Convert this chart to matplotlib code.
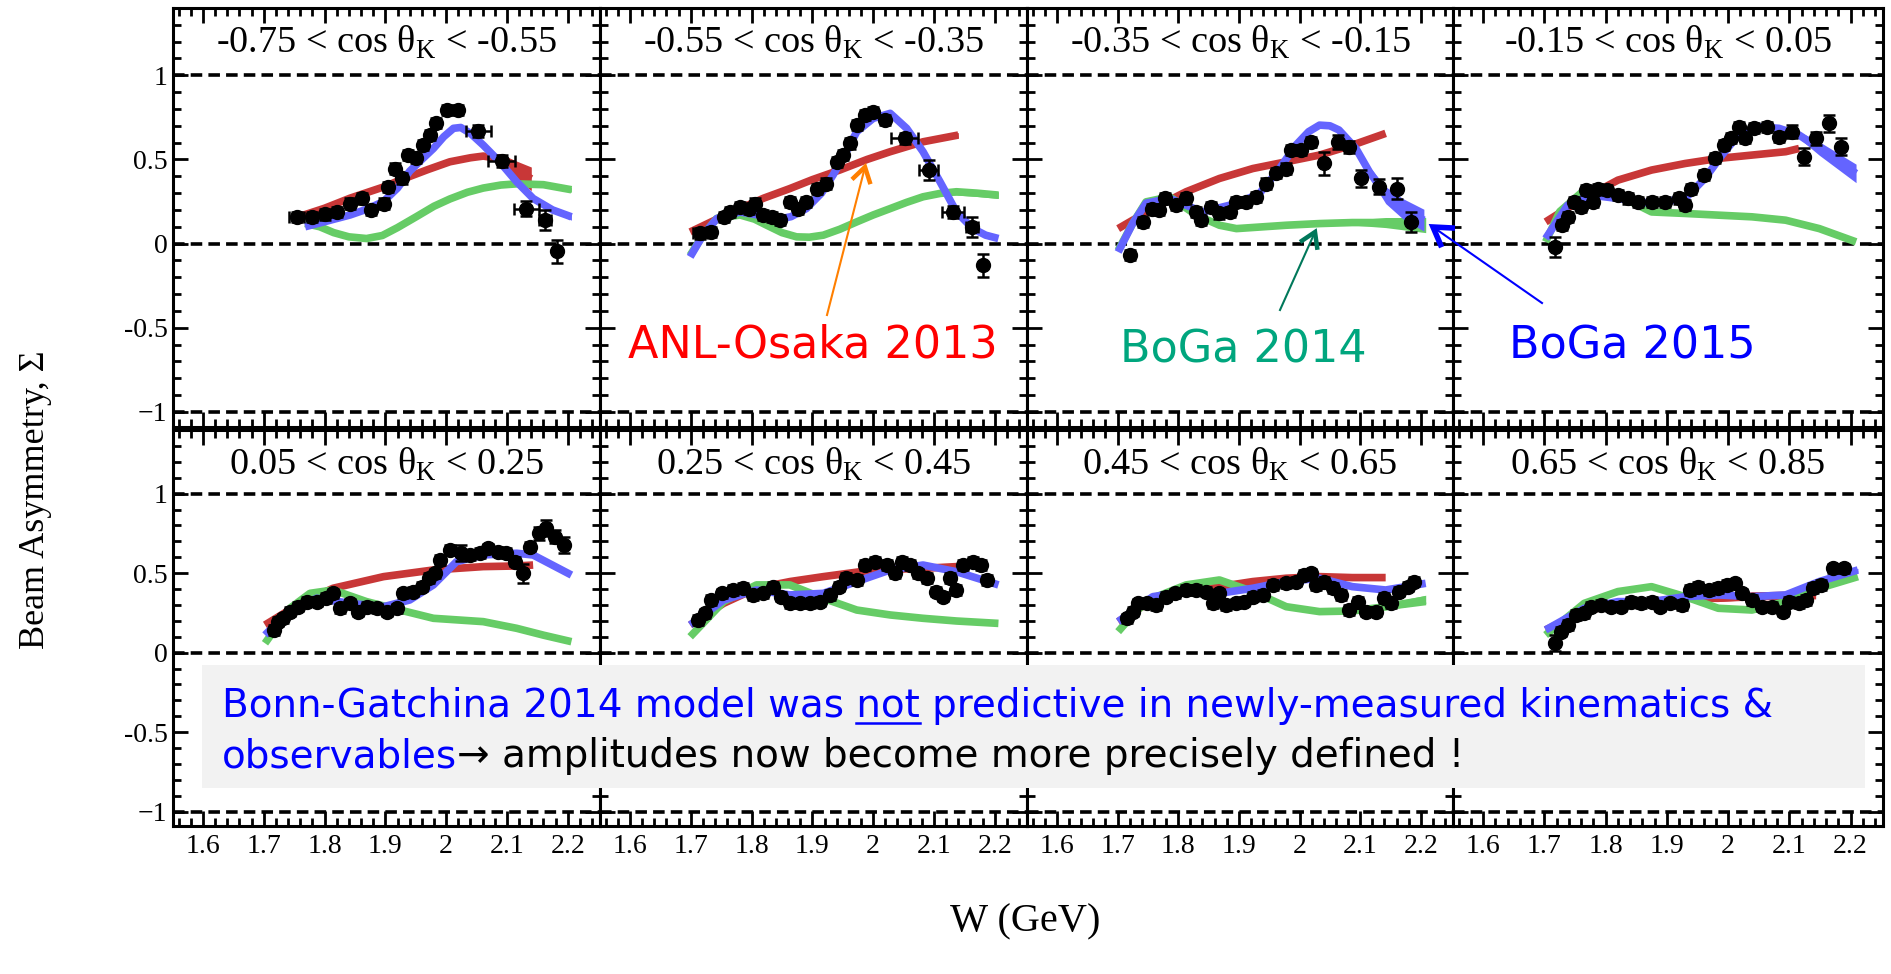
import matplotlib
matplotlib.use("Agg")
import matplotlib.pyplot as plt
import matplotlib.transforms as mtransforms
import numpy as np
from matplotlib.lines import Line2D
from matplotlib.patches import Rectangle
from matplotlib.ticker import MultipleLocator, FuncFormatter

# cos(theta_K) bins, one panel each
cos_lo = [-0.75, -0.55, -0.35, -0.15, 0.05, 0.25, 0.45, 0.65]
cos_hi = [-0.55, -0.35, -0.15, 0.05, 0.25, 0.45, 0.65, 0.85]

# measured beam asymmetry: W (GeV), Sigma, stat. error, W half-width
data_w = [
    [1.754, 1.779, 1.801, 1.820, 1.842, 1.861, 1.877, 1.897, 1.905, 1.916, 1.927, 1.938, 1.951, 1.962, 1.973, 1.984,
     2.001, 2.020, 2.053, 2.091, 2.132, 2.162, 2.182],
    [1.715, 1.734, 1.754, 1.765, 1.781, 1.795, 1.806, 1.819, 1.833, 1.847, 1.863, 1.877, 1.890, 1.907, 1.923, 1.940,
     1.951, 1.962, 1.973, 1.987, 2.000, 2.019, 2.052, 2.091, 2.132, 2.162, 2.181],
    [1.720, 1.742, 1.756, 1.769, 1.778, 1.797, 1.813, 1.830, 1.838, 1.854, 1.868, 1.885, 1.896, 1.912, 1.928, 1.945,
     1.961, 1.978, 1.986, 2.002, 2.019, 2.041, 2.063, 2.082, 2.101, 2.131, 2.161, 2.183],
    [1.718, 1.729, 1.738, 1.749, 1.760, 1.768, 1.779, 1.787, 1.803, 1.820, 1.836, 1.853, 1.875, 1.897, 1.919, 1.930,
     1.940, 1.960, 1.979, 1.993, 2.004, 2.017, 2.028, 2.042, 2.064, 2.083, 2.105, 2.124, 2.143, 2.165, 2.184],
    [1.716, 1.724, 1.732, 1.743, 1.757, 1.771, 1.787, 1.803, 1.814, 1.825, 1.842, 1.855, 1.869, 1.886, 1.902, 1.919,
     1.929, 1.946, 1.960, 1.971, 1.982, 1.990, 2.006, 2.025, 2.039, 2.056, 2.069, 2.086, 2.099, 2.113, 2.127, 2.138,
     2.152, 2.165, 2.179, 2.193],
    [1.712, 1.723, 1.734, 1.751, 1.770, 1.786, 1.803, 1.819, 1.836, 1.849, 1.863, 1.880, 1.896, 1.912, 1.929, 1.943,
     1.956, 1.973, 1.987, 2.003, 2.022, 2.036, 2.047, 2.061, 2.074, 2.088, 2.104, 2.115, 2.126, 2.137, 2.148, 2.165,
     2.178, 2.187],
    [1.715, 1.726, 1.734, 1.748, 1.764, 1.780, 1.794, 1.813, 1.830, 1.846, 1.857, 1.868, 1.879, 1.896, 1.909, 1.923,
     1.939, 1.956, 1.978, 1.994, 2.008, 2.019, 2.027, 2.041, 2.055, 2.068, 2.082, 2.096, 2.109, 2.126, 2.140, 2.150,
     2.164, 2.178, 2.189],
    [1.718, 1.727, 1.738, 1.751, 1.765, 1.776, 1.792, 1.809, 1.825, 1.842, 1.858, 1.875, 1.888, 1.905, 1.924, 1.938,
     1.951, 1.968, 1.984, 1.998, 2.012, 2.023, 2.039, 2.056, 2.072, 2.089, 2.099, 2.116, 2.127, 2.138, 2.152, 2.171,
     2.190],
]
data_s = [
    [0.159, 0.159, 0.173, 0.188, 0.238, 0.268, 0.198, 0.238, 0.337, 0.446, 0.387, 0.526, 0.506, 0.585, 0.645, 0.714,
     0.794, 0.794, 0.669, 0.492, 0.208, 0.139, -0.046],
    [0.060, 0.069, 0.159, 0.188, 0.218, 0.208, 0.238, 0.169, 0.159, 0.139, 0.248, 0.208, 0.248, 0.327, 0.357, 0.486,
     0.526, 0.595, 0.704, 0.764, 0.784, 0.734, 0.625, 0.437, 0.188, 0.099, -0.129],
    [-0.069, 0.129, 0.208, 0.198, 0.268, 0.228, 0.268, 0.188, 0.139, 0.218, 0.179, 0.188, 0.248, 0.248, 0.278, 0.357,
     0.417, 0.446, 0.556, 0.556, 0.605, 0.476, 0.605, 0.575, 0.387, 0.337, 0.327, 0.129],
    [-0.020, 0.109, 0.159, 0.248, 0.218, 0.317, 0.248, 0.327, 0.317, 0.288, 0.268, 0.248, 0.248, 0.248, 0.268, 0.228,
     0.327, 0.407, 0.506, 0.585, 0.625, 0.694, 0.625, 0.685, 0.694, 0.635, 0.665, 0.516, 0.625, 0.714, 0.575],
    [0.143, 0.195, 0.216, 0.258, 0.289, 0.321, 0.321, 0.342, 0.373, 0.279, 0.310, 0.258, 0.289, 0.279, 0.258, 0.279,
     0.373, 0.384, 0.415, 0.468, 0.499, 0.583, 0.646, 0.625, 0.614, 0.625, 0.656, 0.635, 0.625, 0.572, 0.499, 0.667,
     0.751, 0.782, 0.730, 0.677],
    [0.205, 0.247, 0.331, 0.373, 0.394, 0.405, 0.363, 0.373, 0.415, 0.352, 0.310, 0.310, 0.310, 0.321, 0.363, 0.415,
     0.468, 0.457, 0.551, 0.572, 0.551, 0.499, 0.572, 0.551, 0.499, 0.468, 0.384, 0.352, 0.468, 0.394, 0.551, 0.572,
     0.551, 0.457],
    [0.216, 0.258, 0.310, 0.310, 0.300, 0.352, 0.373, 0.394, 0.394, 0.384, 0.310, 0.373, 0.300, 0.310, 0.321, 0.352,
     0.363, 0.426, 0.436, 0.447, 0.488, 0.499, 0.426, 0.447, 0.405, 0.363, 0.268, 0.321, 0.258, 0.258, 0.342, 0.310,
     0.384, 0.415, 0.447],
    [0.059, 0.132, 0.174, 0.237, 0.247, 0.289, 0.300, 0.289, 0.289, 0.321, 0.310, 0.321, 0.289, 0.310, 0.300, 0.394,
     0.415, 0.394, 0.405, 0.426, 0.436, 0.373, 0.331, 0.289, 0.289, 0.258, 0.321, 0.310, 0.331, 0.405, 0.426, 0.530,
     0.530],
]
data_ds = [
    [0.03] * 18 + [0.035, 0.035, 0.045, 0.06, 0.07],
    [0.03] * 22 + [0.035, 0.06, 0.035, 0.06, 0.07],
    [0.03] * 21 + [0.07, 0.04, 0.035, 0.05, 0.045, 0.06, 0.06],
    [0.06] + [0.03] * 25 + [0.04, 0.05, 0.04, 0.05, 0.05],
    [0.03] * 23 + [0.05] + [0.03] * 6 + [0.06, 0.03, 0.04, 0.05, 0.04, 0.05],
    [0.03] * 34,
    [0.03] * 35,
    [0.05] + [0.03] * 32,
]
data_dw = [
    [0.012] + [0.0] * 17 + [0.02, 0.022, 0.02, 0.01, 0.0],
    [0.012] + [0.0] * 21 + [0.022, 0.016, 0.018, 0.01, 0.0],
    [0.0] * 28,
    [0.0] * 31,
    [0.0] * 36,
    [0.0] * 34,
    [0.0] * 35,
    [0.0] * 33,
]

# ANL-Osaka 2013 band: W, centre, extra half-width
anl_w = [
    [1.749, 1.800, 1.842, 1.900, 1.924, 1.970, 2.006, 2.040, 2.061, 2.088, 2.116, 2.140],
    [1.699, 1.740, 1.781, 1.820, 1.863, 1.900, 1.945, 1.990, 2.028, 2.082, 2.140],
    [1.701, 1.758, 1.813, 1.868, 1.923, 1.978, 2.033, 2.087, 2.142],
    [1.702, 1.754, 1.820, 1.875, 1.930, 1.984, 2.039, 2.094, 2.116],
    [1.702, 1.760, 1.814, 1.897, 1.979, 2.061, 2.116, 2.143],
    [1.699, 1.754, 1.808, 1.863, 1.918, 2.000, 2.082, 2.137],
    [1.701, 1.758, 1.813, 1.868, 1.923, 1.978, 2.033, 2.087, 2.142],
    [1.702, 1.765, 1.820, 1.875, 1.930, 1.984, 2.039, 2.094, 2.143],
]
anl_s = [
    [0.150, 0.210, 0.270, 0.340, 0.377, 0.440, 0.486, 0.510, 0.520, 0.505, 0.435, 0.385],
    [0.069, 0.140, 0.208, 0.270, 0.327, 0.380, 0.437, 0.500, 0.546, 0.605, 0.645],
    [0.089, 0.208, 0.308, 0.387, 0.446, 0.486, 0.526, 0.585, 0.655],
    [0.129, 0.248, 0.377, 0.437, 0.476, 0.506, 0.526, 0.546, 0.565],
    [0.174, 0.310, 0.405, 0.478, 0.520, 0.541, 0.545, 0.551],
    [0.174, 0.310, 0.405, 0.447, 0.478, 0.520, 0.530, 0.541],
    [0.195, 0.331, 0.384, 0.415, 0.447, 0.468, 0.478, 0.472, 0.472],
    [0.143, 0.258, 0.310, 0.321, 0.342, 0.342, 0.355, 0.360, 0.363],
]
anl_h = [
    [0, 0, 0, 0, 0, 0, 0, 0, 0.01, 0.03, 0.055, 0.07],
    [0, 0, 0, 0, 0, 0, 0, 0, 0, 0.005, 0.015],
    [0] * 9,
    [0] * 9,
    [0] * 8,
    [0] * 8,
    [0] * 9,
    [0, 0, 0, 0, 0.01, 0.02, 0.025, 0.025, 0.025],
]

# Bonn-Gatchina 2014
b14_w = [
    [1.768, 1.792, 1.815, 1.840, 1.869, 1.895, 1.920, 1.951, 1.980, 2.006, 2.035, 2.061, 2.090, 2.116, 2.160, 2.206],
    [1.699, 1.720, 1.743, 1.781, 1.805, 1.825, 1.850, 1.874, 1.895, 1.918, 1.945, 1.973, 2.000, 2.028, 2.055, 2.082,
     2.110, 2.137, 2.170, 2.206],
    [1.701, 1.725, 1.747, 1.786, 1.830, 1.868, 1.896, 1.978, 2.033, 2.087, 2.142, 2.208],
    [1.702, 1.725, 1.765, 1.790, 1.820, 1.875, 1.930, 1.984, 2.039, 2.094, 2.149, 2.209],
    [1.702, 1.743, 1.776, 1.814, 1.869, 1.924, 1.979, 2.061, 2.116, 2.160, 2.206],
    [1.699, 1.754, 1.808, 1.863, 1.918, 1.973, 2.028, 2.082, 2.137, 2.206],
    [1.701, 1.730, 1.758, 1.813, 1.868, 1.923, 1.978, 2.033, 2.087, 2.142, 2.208],
    [1.702, 1.765, 1.820, 1.875, 1.930, 1.984, 2.039, 2.094, 2.149, 2.212],
]
b14_s = [
    [0.120, 0.100, 0.065, 0.040, 0.030, 0.048, 0.095, 0.160, 0.222, 0.265, 0.305, 0.330, 0.348, 0.355, 0.350, 0.320],
    [-0.070, 0.050, 0.150, 0.170, 0.145, 0.109, 0.065, 0.040, 0.038, 0.050, 0.085, 0.129, 0.170, 0.208, 0.245, 0.278,
     0.298, 0.308, 0.300, 0.288],
    [-0.040, 0.120, 0.248, 0.278, 0.169, 0.109, 0.089, 0.109, 0.119, 0.125, 0.125, 0.110],
    [0.010, 0.190, 0.317, 0.325, 0.288, 0.188, 0.179, 0.169, 0.159, 0.139, 0.089, 0.010],
    [0.059, 0.279, 0.373, 0.394, 0.321, 0.268, 0.216, 0.195, 0.153, 0.110, 0.069],
    [0.100, 0.321, 0.426, 0.426, 0.342, 0.268, 0.237, 0.216, 0.199, 0.184],
    [0.132, 0.260, 0.342, 0.426, 0.457, 0.384, 0.289, 0.258, 0.262, 0.289, 0.331],
    [0.111, 0.310, 0.384, 0.415, 0.352, 0.279, 0.268, 0.321, 0.405, 0.478],
]
b14_h = [
    [0] * 11 + [0.005, 0.008, 0.01, 0.012, 0.015],
    [0] * 13 + [0.005, 0.008, 0.01, 0.015, 0.02, 0.02, 0.02],
    [0, 0, 0, 0, 0, 0, 0, 0, 0.005, 0.015, 0.03, 0.045],
    [0] * 12,
    [0] * 11,
    [0] * 10,
    [0, 0, 0, 0, 0, 0, 0, 0, 0.01, 0.02, 0.03],
    [0] * 10,
]

# Bonn-Gatchina 2015
b15_w = [
    [1.768, 1.800, 1.842, 1.870, 1.897, 1.920, 1.940, 1.960, 1.979, 1.996, 2.012, 2.024, 2.040, 2.061, 2.088, 2.116,
     2.143, 2.175, 2.206],
    [1.699, 1.720, 1.743, 1.781, 1.810, 1.836, 1.865, 1.890, 1.915, 1.934, 1.955, 1.973, 2.000, 2.028, 2.055, 2.082,
     2.110, 2.137, 2.164, 2.185, 2.206],
    [1.701, 1.725, 1.747, 1.786, 1.840, 1.896, 1.934, 1.967, 1.994, 2.015, 2.033, 2.050, 2.065, 2.093, 2.115, 2.142,
     2.170, 2.205],
    [1.702, 1.738, 1.776, 1.820, 1.875, 1.930, 1.962, 1.990, 2.017, 2.050, 2.083, 2.116, 2.149, 2.209],
    [1.702, 1.743, 1.787, 1.842, 1.897, 1.940, 1.979, 2.017, 2.061, 2.116, 2.143, 2.206],
    [1.699, 1.754, 1.808, 1.863, 1.918, 1.973, 2.028, 2.082, 2.137, 2.206],
    [1.701, 1.758, 1.813, 1.868, 1.923, 1.978, 2.033, 2.087, 2.142, 2.208],
    [1.702, 1.765, 1.820, 1.875, 1.930, 1.984, 2.039, 2.094, 2.149, 2.212],
]
b15_s = [
    [0.100, 0.130, 0.170, 0.205, 0.250, 0.330, 0.430, 0.500, 0.565, 0.635, 0.685, 0.690, 0.655, 0.585, 0.486, 0.367,
     0.268, 0.200, 0.159],
    [-0.079, 0.050, 0.149, 0.188, 0.170, 0.139, 0.160, 0.208, 0.300, 0.407, 0.540, 0.665, 0.744, 0.774, 0.685, 0.546,
     0.367, 0.188, 0.089, 0.050, 0.030],
    [-0.050, 0.120, 0.240, 0.268, 0.188, 0.238, 0.298, 0.446, 0.585, 0.665, 0.704, 0.700, 0.675, 0.565, 0.427, 0.288,
     0.208, 0.139],
    [0.030, 0.228, 0.288, 0.268, 0.238, 0.268, 0.387, 0.526, 0.645, 0.694, 0.685, 0.645, 0.565, 0.417],
    [0.111, 0.268, 0.342, 0.310, 0.289, 0.331, 0.426, 0.572, 0.614, 0.625, 0.614, 0.488],
    [0.174, 0.331, 0.394, 0.363, 0.373, 0.447, 0.520, 0.551, 0.509, 0.426],
    [0.195, 0.352, 0.384, 0.373, 0.405, 0.447, 0.468, 0.415, 0.394, 0.436],
    [0.143, 0.279, 0.321, 0.321, 0.352, 0.363, 0.352, 0.363, 0.447, 0.520],
]
b15_h = [
    [0] * 16 + [0.005, 0.01, 0.02],
    [0] * 21,
    [0] * 13 + [0.01, 0.03, 0.05, 0.06, 0.065],
    [0] * 10 + [0.005, 0.02, 0.04, 0.055],
    [0] * 12,
    [0] * 10,
    [0] * 10,
    [0.01] * 10,
]

RED = "#c83737"
GREEN = "#66cc66"
BLUE = "#6464ff"

FW, FH = 1891, 974
fig = plt.figure(figsize=(FW / 100, FH / 100), dpi=100)
plt.rcParams["font.family"] = "Liberation Serif"
plt.rcParams["mathtext.fontset"] = "custom"
plt.rcParams["mathtext.rm"] = "Liberation Serif"


def fx(x):
    return x / FW


def fy(y):
    return 1 - y / FH


col_edges = [173, 600, 1027, 1453, 1883]
row_edges = [(8, 427), (430, 826)]


def draw_band(ax, w, s, h, color, z):
    w, s, h = np.array(w), np.array(s), np.array(h)
    ax.fill_between(w, s - h, s + h, color=color, lw=0, zorder=z)
    ax.plot(w, s, color=color, lw=5.5, solid_joinstyle="round", solid_capstyle="butt", zorder=z)


def ylab(v, pos):
    if abs(v + 1) < 1e-6:
        return "\u22121"
    return f"{v:g}"


for i in range(8):
    r, c = divmod(i, 4)
    x0, x1 = col_edges[c], col_edges[c + 1]
    y0, y1 = row_edges[r]
    ax = fig.add_axes([fx(x0), fy(y1), (x1 - x0) / FW, (y1 - y0) / FH])
    ax.set_xlim(1.5507, 2.253)
    ax.set_ylim(-1.09, 1.40)

    for v in (-1, 0, 1):
        ax.axhline(v, color="k", lw=2.6, ls=(0, (3.2, 1.7)), zorder=1)

    draw_band(ax, anl_w[i], anl_s[i], anl_h[i], RED, 2)
    draw_band(ax, b14_w[i], b14_s[i], b14_h[i], GREEN, 3)
    draw_band(ax, b15_w[i], b15_s[i], b15_h[i], BLUE, 4)

    ax.errorbar(data_w[i], data_s[i], yerr=data_ds[i], xerr=data_dw[i], fmt="o", color="k", ms=10,
                elinewidth=1.8, capsize=4, capthick=1.8, zorder=6)

    title_tr = mtransforms.offset_copy(ax.transAxes, fig=fig, y=-45, units="dots")
    ax.text(0.5, 1.0, f"{cos_lo[i]:.2f} < cos θ$_{{\\mathregular{{K}}}}$ < {cos_hi[i]:.2f}",
            transform=title_tr, ha="center", va="baseline", fontsize=27.5)

    ax.xaxis.set_major_locator(MultipleLocator(0.1))
    ax.xaxis.set_minor_locator(MultipleLocator(0.02))
    ax.yaxis.set_major_locator(MultipleLocator(0.5))
    ax.yaxis.set_minor_locator(MultipleLocator(0.1))
    ax.xaxis.set_major_formatter(FuncFormatter(lambda v, p: f"{v:g}"))
    ax.yaxis.set_major_formatter(FuncFormatter(ylab))
    ax.tick_params(which="both", direction="in", top=True, right=True, width=2.0, colors="k")
    ax.tick_params(which="major", length=11)
    ax.tick_params(which="minor", length=6)
    ax.tick_params(axis="x", labelsize=20, pad=6, labelbottom=(r == 1))
    ax.tick_params(axis="y", labelsize=20, pad=4, labelleft=(c == 0))
    for sp in ax.spines.values():
        sp.set_linewidth(2.2)

fig.text(fx(36), fy(500), "Beam Asymmetry, Σ", rotation=90, ha="center", va="center", fontsize=26)
fig.text(fx(1025), fy(922), "W (GeV)", ha="center", va="center", fontsize=29)

# model labels with arrows pointing at the curves
sans = "DejaVu Sans"
fig.text(fx(813), fy(345), "ANL-Osaka 2013", color="#ff0000", ha="center", va="center", fontsize=32,
         family=sans, zorder=7)
fig.text(fx(1243), fy(350), "BoGa 2014", color="#00a67e", ha="center", va="center", fontsize=32,
         family=sans, zorder=7)
fig.text(fx(1632), fy(346), "BoGa 2015", color="#0000ff", ha="center", va="center", fontsize=32,
         family=sans, zorder=7)


def arrow(xa, ya, xb, yb, color, lw_shaft, lw_head, size=20, spread=32):
    # thin shaft, open head with heavier strokes (positions in pixels from top-left)
    fig.add_artist(Line2D([fx(xa), fx(xb)], [fy(ya), fy(yb)], color=color, lw=lw_shaft, zorder=7))
    ang = np.arctan2(yb - ya, xb - xa)
    pts = []
    for sgn in (1, -1):
        a = ang + sgn * np.radians(spread)
        pts.append((xb - size * np.cos(a), yb - size * np.sin(a)))
    hx = [pts[0][0], xb, pts[1][0]]
    hy = [pts[0][1], yb, pts[1][1]]
    fig.add_artist(Line2D([fx(v) for v in hx], [fy(v) for v in hy], color=color, lw=lw_head,
                          solid_joinstyle="miter", solid_capstyle="butt", zorder=7))


arrow(827, 315, 865, 167, "#ff7f00", 1.5, 3.2, size=18)
arrow(1280, 310, 1315, 232, "#00785a", 1.5, 3.2, size=18)
arrow(1542, 303, 1433, 227, "#0000ff", 1.5, 4.0, size=22)

# comment box across the lower row
fig.add_artist(Rectangle((fx(202), fy(788)), (1865 - 202) / FW, (788 - 665) / FH, transform=fig.transFigure,
                         facecolor="#f2f2f2", edgecolor="none", zorder=5))

renderer = fig.canvas.get_renderer()
box_fs = 28
tx = 222
line1 = "Bonn-Gatchina 2014 model was not predictive in newly-measured kinematics &"
fig.text(fx(tx), fy(717), line1, color="#0000ff", fontsize=box_fs, family=sans, va="baseline", zorder=6)

# underline the word "not"
probe = fig.text(0, 0, "Bonn-Gatchina 2014 model was not", fontsize=box_fs, family=sans)
probe_not = fig.text(0, 0, "not", fontsize=box_fs, family=sans)
w_pre = probe.get_window_extent(renderer).width
w_not = probe_not.get_window_extent(renderer).width
probe.remove()
probe_not.remove()
ux0 = tx + w_pre - w_not
fig.add_artist(Line2D([fx(ux0), fx(ux0 + w_not)], [fy(723), fy(723)], color="#0000ff", lw=1.8, zorder=6))

t2 = fig.text(fx(tx), fy(767), "observables", color="#0000ff", fontsize=box_fs, family=sans, va="baseline",
              zorder=6)
w_obs = t2.get_window_extent(renderer).width
fig.text(fx(tx + w_obs), fy(767), "\u2192 amplitudes now become more precisely defined !", color="k",
         fontsize=box_fs, family=sans, va="baseline", zorder=6)

fig.savefig("out.png", dpi=100)
